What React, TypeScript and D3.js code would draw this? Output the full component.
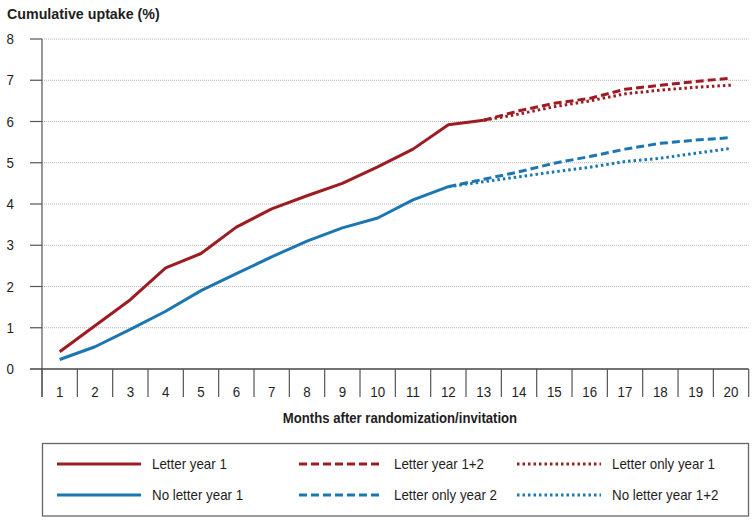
import React, { useRef, useEffect } from "react";
import * as d3 from "d3";

// months on the x axis
const months = [1, 2, 3, 4, 5, 6, 7, 8, 9, 10, 11, 12, 13, 14, 15, 16, 17, 18, 19, 20];
const yTicks = [0, 1, 2, 3, 4, 5, 6, 7, 8];

// series (month ranges noted next to each)
const letterYear1Months = [1, 2, 3, 4, 5, 6, 7, 8, 9, 10, 11, 12, 13];
const letterYear1 = [0.42, 1.05, 1.68, 2.45, 2.8, 3.44, 3.88, 4.2, 4.5, 4.9, 5.33, 5.92, 6.03];

const noLetterYear1Months = [1, 2, 3, 4, 5, 6, 7, 8, 9, 10, 11, 12];
const noLetterYear1 = [0.23, 0.54, 0.96, 1.4, 1.9, 2.31, 2.72, 3.1, 3.42, 3.66, 4.1, 4.42];

const letterYear12Months = [13, 14, 15, 16, 17, 18, 19, 20];
const letterYear12 = [6.03, 6.26, 6.44, 6.56, 6.78, 6.88, 6.97, 7.05];

const letterOnlyYear1Months = [13, 14, 15, 16, 17, 18, 19, 20];
const letterOnlyYear1 = [6.03, 6.18, 6.36, 6.5, 6.67, 6.76, 6.83, 6.88];

const letterOnlyYear2Months = [12, 13, 14, 15, 16, 17, 18, 19, 20];
const letterOnlyYear2 = [4.42, 4.6, 4.78, 4.99, 5.15, 5.33, 5.47, 5.55, 5.61];

const noLetterYear12Months = [12, 13, 14, 15, 16, 17, 18, 19, 20];
const noLetterYear12 = [4.42, 4.54, 4.66, 4.78, 4.89, 5.03, 5.11, 5.23, 5.35];

const RED = "#9c1c21";
const BLUE = "#1b76b2";
const FONT = "'Liberation Sans', Arial, sans-serif";
const SQUEEZE = 0.92; // reference uses a condensed face

const series = [
  { label: "Letter year 1", months: letterYear1Months, values: letterYear1, color: RED, dash: null },
  { label: "No letter year 1", months: noLetterYear1Months, values: noLetterYear1, color: BLUE, dash: null },
  { label: "Letter year 1+2", months: letterYear12Months, values: letterYear12, color: RED, dash: "8,4" },
  { label: "Letter only year 2", months: letterOnlyYear2Months, values: letterOnlyYear2, color: BLUE, dash: "8,4" },
  { label: "Letter only year 1", months: letterOnlyYear1Months, values: letterOnlyYear1, color: RED, dash: "2.5,3" },
  { label: "No letter year 1+2", months: noLetterYear12Months, values: noLetterYear12, color: BLUE, dash: "2.5,3" },
];

// condensed text helper
const addText = (g, x, y, str, opts = {}) =>
  g.append("text")
    .attr("transform", `translate(${x},${y}) scale(${SQUEEZE},1)`)
    .attr("text-anchor", opts.anchor || "start")
    .attr("font-family", FONT)
    .attr("font-size", opts.size || 14)
    .attr("font-weight", opts.bold ? "bold" : "normal")
    .attr("fill", "#1e1e1e")
    .text(str);

const Chart = ({ width = 754, height = 521 }) => {
  const svgRef = useRef(null);

  useEffect(() => {
    const svg = d3.select(svgRef.current).attr("width", width).attr("height", height);
    svg.selectAll("*").remove();

    const x = d3.scaleBand().domain(months.map(String)).range([42, 748.7]).padding(0);
    const y = d3.scaleLinear().domain([0, 8]).range([369, 39]);
    const cx = (m) => x(String(m)) + x.bandwidth() / 2;
    const right = x("20") + x.bandwidth();

    // gridlines
    svg.append("g")
      .selectAll("line")
      .data(yTicks.filter((t) => t > 0))
      .enter()
      .append("line")
      .attr("x1", 42)
      .attr("x2", right)
      .attr("y1", (d) => y(d))
      .attr("y2", (d) => y(d))
      .attr("stroke", "#b5b5b5")
      .attr("stroke-width", 1)
      .attr("stroke-dasharray", "1,1");

    // y axis
    svg.append("line")
      .attr("x1", 42).attr("x2", 42).attr("y1", y(8)).attr("y2", 397)
      .attr("stroke", "#777").attr("stroke-width", 1.5);
    svg.append("g")
      .selectAll("line")
      .data(yTicks.filter((t) => t > 0))
      .enter()
      .append("line")
      .attr("x1", 30).attr("x2", 42)
      .attr("y1", (d) => y(d)).attr("y2", (d) => y(d))
      .attr("stroke", "#555").attr("stroke-width", 1.2);
    yTicks.forEach((t) => addText(svg, 14, y(t) + 5, t, { anchor: "end", size: 14.5 }));

    // x axis baseline and band separators
    svg.append("line")
      .attr("x1", 30).attr("x2", right).attr("y1", y(0)).attr("y2", y(0))
      .attr("stroke", "#444").attr("stroke-width", 1.3);
    svg.append("g")
      .selectAll("line")
      .data(months.map((m) => x(String(m))).concat([right]))
      .enter()
      .append("line")
      .attr("x1", (d) => d)
      .attr("x2", (d) => d)
      .attr("y1", y(0))
      .attr("y2", 397)
      .attr("stroke", "#555")
      .attr("stroke-width", 1.2);
    months.forEach((m) => addText(svg, cx(m), 397, m, { anchor: "middle", size: 14.5 }));

    // titles
    addText(svg, 7, 19, "Cumulative uptake (%)", { bold: true, size: 15.5 });
    addText(svg, 400, 423, "Months after randomization/invitation", { bold: true, size: 14.3, anchor: "middle" });

    // lines
    const line = d3.line().x((d) => cx(d[0])).y((d) => y(d[1]));
    series.forEach((s) => {
      svg.append("path")
        .datum(s.months.map((m, i) => [m, s.values[i]]))
        .attr("d", line)
        .attr("fill", "none")
        .attr("stroke", s.color)
        .attr("stroke-width", 3)
        .attr("stroke-linejoin", "round")
        .attr("stroke-dasharray", s.dash);
    });

    // legend
    svg.append("rect")
      .attr("x", 42.5).attr("y", 443.5).attr("width", 706).attr("height", 72.5)
      .attr("fill", "none").attr("stroke", "#666").attr("stroke-width", 1.3);
    const colX = [57, 299, 517];
    const rowY = [464, 495];
    series.forEach((s, i) => {
      const lx = colX[Math.floor(i / 2)];
      const ly = rowY[i % 2];
      svg.append("line")
        .attr("x1", lx).attr("x2", lx + 84).attr("y1", ly).attr("y2", ly)
        .attr("stroke", s.color).attr("stroke-width", 3).attr("stroke-dasharray", s.dash);
      addText(svg, lx + 95, ly + 5, s.label, { size: 14.5 });
    });
  }, [width, height]);

  return <svg ref={svgRef} style={{ display: "block" }}></svg>;
};

export default function App() {
  return (
    <div style={{ position: "absolute", left: 0, top: 0, background: "#fff" }}>
      <Chart />
    </div>
  );
}
